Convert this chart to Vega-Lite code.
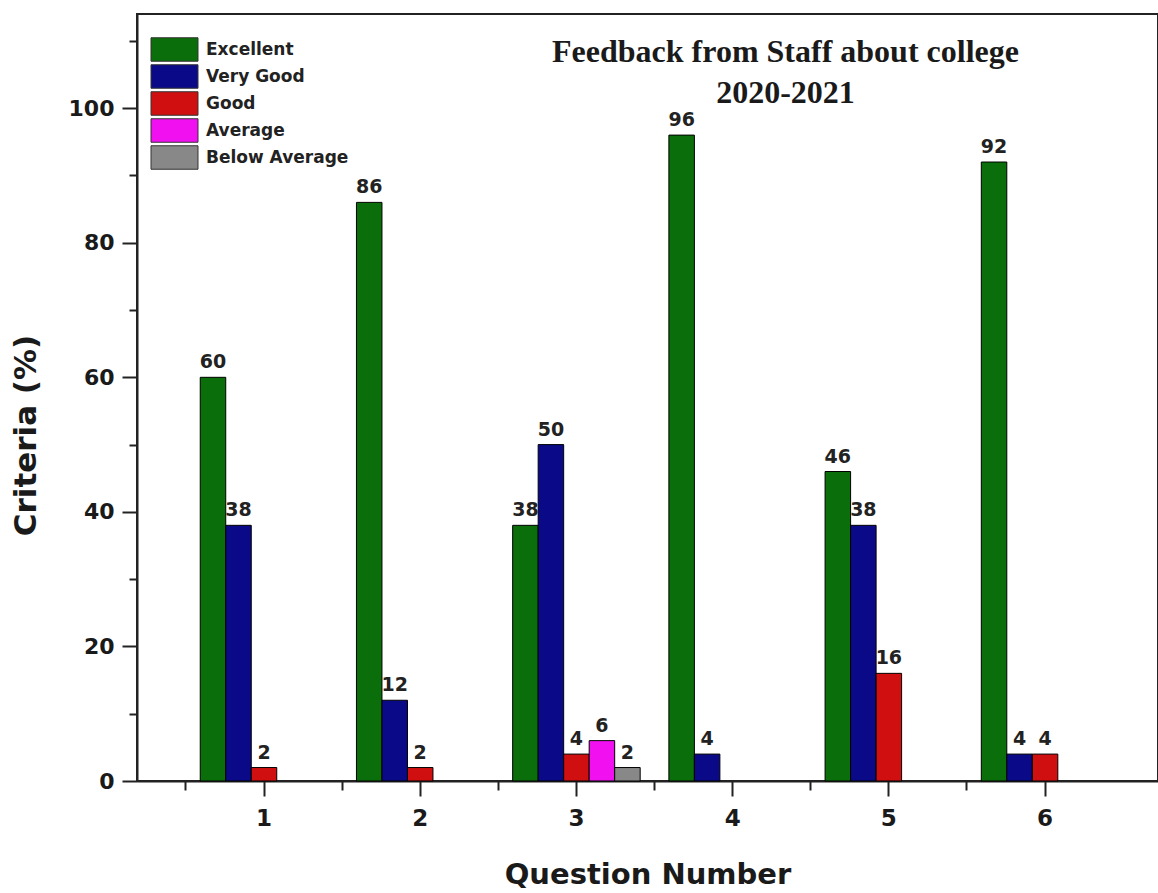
{
  "$schema": "https://vega.github.io/schema/vega-lite/v6.json",
  "width": 1021,
  "height": 767,
  "autosize": "none",
  "padding": {"left": 137, "top": 14, "right": 0, "bottom": 112},
  "background": "white",
  "title": {
    "text": ["Feedback from Staff about college", "2020-2021"],
    "font": "Liberation Serif",
    "fontSize": 32,
    "fontWeight": "bold",
    "color": "#1a1a1a",
    "anchor": "middle",
    "dx": 138,
    "baseline": "top",
    "offset": -96,
    "lineHeight": 41
  },
  "data": {
    "values": [
      {"question": "1", "rating": "Excellent", "percent": 60},
      {"question": "1", "rating": "Very Good", "percent": 38},
      {"question": "1", "rating": "Good", "percent": 2},
      {"question": "2", "rating": "Excellent", "percent": 86},
      {"question": "2", "rating": "Very Good", "percent": 12},
      {"question": "2", "rating": "Good", "percent": 2},
      {"question": "3", "rating": "Excellent", "percent": 38},
      {"question": "3", "rating": "Very Good", "percent": 50},
      {"question": "3", "rating": "Good", "percent": 4},
      {"question": "3", "rating": "Average", "percent": 6},
      {"question": "3", "rating": "Below Average", "percent": 2},
      {"question": "4", "rating": "Excellent", "percent": 96},
      {"question": "4", "rating": "Very Good", "percent": 4},
      {"question": "5", "rating": "Excellent", "percent": 46},
      {"question": "5", "rating": "Very Good", "percent": 38},
      {"question": "5", "rating": "Good", "percent": 16},
      {"question": "6", "rating": "Excellent", "percent": 92},
      {"question": "6", "rating": "Very Good", "percent": 4},
      {"question": "6", "rating": "Good", "percent": 4}
    ]
  },
  "layer": [
    {
      "mark": {"type": "bar", "stroke": "black", "strokeWidth": 1},
      "encoding": {
        "x": {
          "field": "question",
          "type": "ordinal",
          "scale": {"paddingInner": 0, "paddingOuter": 0.268, "align": 0.584},
          "axis": {
            "orient": "bottom",
            "title": "Question Number",
            "titleFont": "DejaVu Sans",
            "titleFontSize": 29,
            "titleFontWeight": "bold",
            "titleColor": "#1a1a1a",
            "titlePadding": 30,
            "labelAngle": 0,
            "labelFont": "DejaVu Sans",
            "labelFontSize": 23,
            "labelFontWeight": "bold",
            "labelColor": "#1a1a1a",
            "labelPadding": 11,
            "tickSize": 15,
            "tickWidth": 2,
            "tickColor": "#222",
            "domainColor": "#222",
            "domainWidth": 2,
            "grid": false
          }
        },
        "xOffset": {
          "field": "rating",
          "type": "nominal",
          "scale": {
            "domain": ["Excellent", "Very Good", "Good", "Average", "Below Average"],
            "paddingInner": 0,
            "paddingOuter": 0.5625
          }
        },
        "y": {
          "field": "percent",
          "type": "quantitative",
          "scale": {"domain": [0, 114], "nice": false},
          "axis": {
            "title": "Criteria (%)",
            "titleFont": "DejaVu Sans",
            "titleFontSize": 31,
            "titleFontWeight": "bold",
            "titleColor": "#1a1a1a",
            "titlePadding": 26,
            "titleY": 421,
            "values": [0, 10, 20, 30, 40, 50, 60, 70, 80, 90, 100, 110],
            "labelExpr": "datum.value % 20 === 0 ? datum.label : ''",
            "labelOverlap": false,
            "labelFont": "DejaVu Sans",
            "labelFontSize": 22,
            "labelFontWeight": "bold",
            "labelColor": "#1a1a1a",
            "labelPadding": 8,
            "tickSize": {"condition": {"test": "datum.value % 20 === 0", "value": 15}, "value": 8},
            "tickWidth": 2,
            "tickColor": "#222",
            "domainColor": "#222",
            "domainWidth": 2,
            "grid": false
          }
        },
        "color": {
          "field": "rating",
          "type": "nominal",
          "scale": {
            "domain": ["Excellent", "Very Good", "Good", "Average", "Below Average"],
            "range": ["#0a6e0a", "#0a0a88", "#d01010", "#f010f0", "#888888"]
          },
          "legend": {
            "title": null,
            "orient": "none",
            "legendX": 25,
            "legendY": 23,
            "padding": 0,
            "rowPadding": -9,
            "symbolType": "M-2,-1H2V1H-2Z",
            "symbolSize": 552,
            "symbolStrokeColor": "#333",
            "symbolStrokeWidth": 1,
            "symbolOpacity": 1,
            "labelFont": "DejaVu Sans",
            "labelFontSize": 17,
            "labelFontWeight": "bold",
            "labelColor": "#222",
            "labelOffset": 19,
            "labelLimit": 300
          }
        }
      }
    },
    {
      "mark": {
        "type": "text",
        "baseline": "bottom",
        "dy": -5,
        "font": "DejaVu Sans",
        "fontSize": 19,
        "fontWeight": "bold",
        "color": "#222"
      },
      "encoding": {
        "x": {
          "field": "question",
          "type": "ordinal",
          "axis": {
            "orient": "bottom",
            "title": null,
            "labels": false,
            "bandPosition": 0,
            "tickSize": 9,
            "tickWidth": 2,
            "tickColor": "#222",
            "domain": false,
            "grid": false
          }
        },
        "xOffset": {"field": "rating", "type": "nominal"},
        "y": {"field": "percent", "type": "quantitative"},
        "text": {"field": "percent", "type": "quantitative"}
      }
    }
  ],
  "resolve": {"axis": {"x": "independent"}},
  "config": {
    "view": {"stroke": "#222", "strokeWidth": 2}
  }
}
